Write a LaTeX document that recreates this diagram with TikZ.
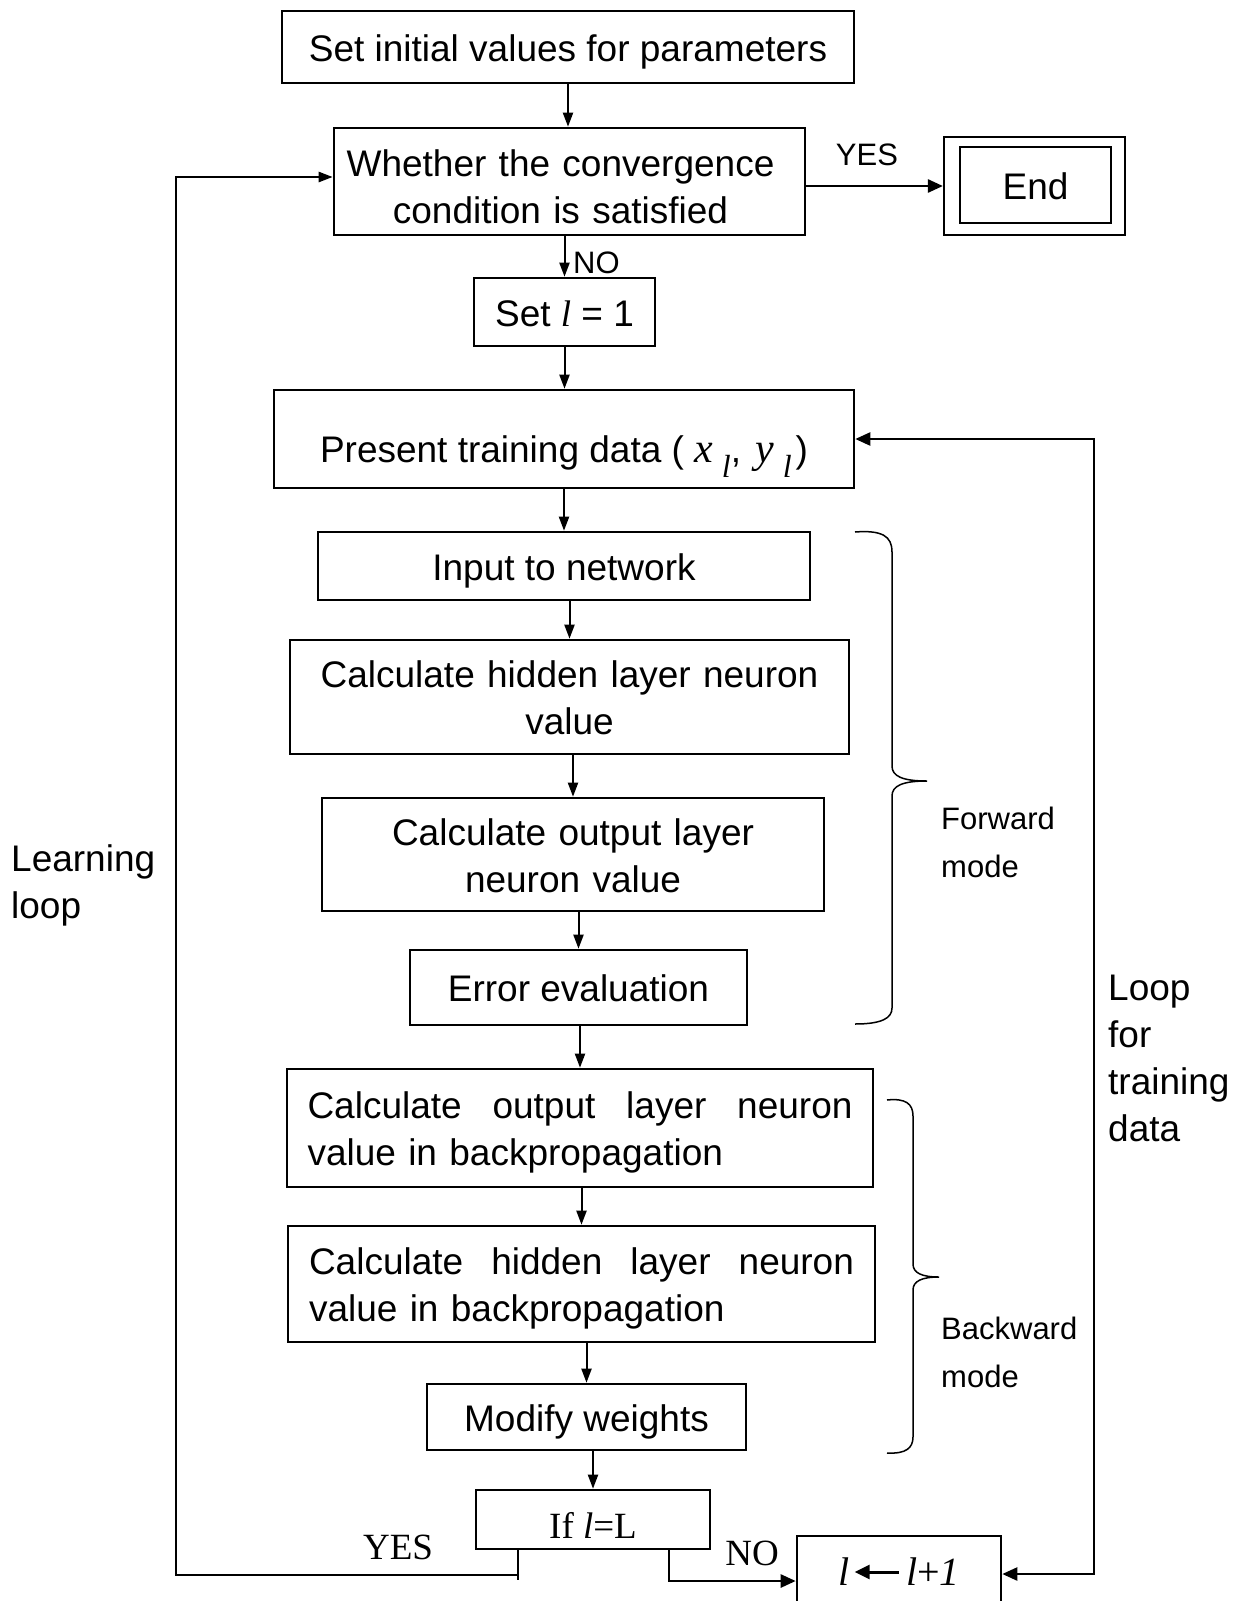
\documentclass[tikz,border=0pt]{standalone}
\usepackage{fontspec}
\setmainfont{Liberation Sans}
\newfontfamily\tnr{Liberation Serif}
\usetikzlibrary{arrows.meta}
\newcommand\bxf{\fontsize{37}{47}\selectfont}
\newcommand\lblf{\fontsize{31}{48}\selectfont}
\newcommand\tmf{\tnr\fontsize{37}{42}\selectfont}
\newcommand\il{{\tnr\itshape l}}
\newcommand\sbl{\raisebox{-15pt}{\tnr\itshape\fontsize{32}{32}\selectfont l}}
\newcommand\vx{{\tnr\itshape\fontsize{42}{42}\selectfont x}}
\newcommand\vy{{\tnr\itshape\fontsize{42}{42}\selectfont y}}
\newcommand\boxstrut{\rule[-8pt]{0pt}{44pt}}
\newcommand\assignarrow{\tikz[baseline=-13pt]\draw[line width=3pt,{Triangle[length=15pt,width=14pt]}-] (0pt,0pt) -- (44pt,0pt);}
\begin{document}
\begin{tikzpicture}[x=1pt,y=-1pt,
  box/.style={draw, line width=2.6pt, inner sep=0pt, align=center, font=\bxf,
    execute at begin node=\boxstrut, execute at end node=\boxstrut},
  arr/.style={line width=2pt, -{Triangle[length=14pt,width=10pt]}},
  bigarr/.style={line width=2.6pt, -{Triangle[length=15pt,width=13pt]}},
  dblarr/.style={line width=2.4pt, {Triangle[length=15pt,width=13pt]}-{Triangle[length=15pt,width=13pt]}},
  thinln/.style={line width=1.2pt},
  brc/.style={line width=1.5pt},
  lbl/.style={inner sep=0pt, font=\lblf, align=left},
  side/.style={inner sep=0pt, font=\bxf, align=left},
  tlbl/.style={inner sep=0pt, font=\tmf}]

\fill[white] (0,0) rectangle (1244,1601);
\useasboundingbox (0,0) rectangle (1244,1601);
\clip (0,0) rectangle (1244,1601);

% main column of steps
\node[box, minimum width=572pt, minimum height=72pt] (init) at (568,47) {Set initial values for parameters};
\node[box, minimum width=471pt, minimum height=107pt, text width=450pt,
  execute at begin node={\rule[-8pt]{0pt}{52pt}}] (conv) at (569.5,181.5)
  {\hspace*{-18pt}Whether the convergence\\\hspace*{-18pt}condition is satisfied};
\node[draw, line width=2.2pt, minimum width=181pt, minimum height=98pt, inner sep=0pt] (endo) at (1034.5,186) {};
\node[box, minimum width=151pt, minimum height=76pt] (endi) at (1035.5,185) {End};
\node[box, minimum width=181pt, minimum height=68pt] (setl) at (564.5,312) {Set \il{} = 1};
\node[box, minimum width=580pt, minimum height=98pt] (present) at (564,439)
  {\raisebox{-9pt}[0pt][0pt]{Present training data ( \vx\hspace{9pt}\sbl,\hspace{14pt}\vy\hspace{9pt}\sbl\hspace{4pt})}};
\node[box, minimum width=492pt, minimum height=68pt] (input) at (564,566) {Input to network};
\node[box, minimum width=559pt, minimum height=114pt, text width=540pt] (hidden) at (569.5,697) {Calculate hidden layer neuron\\value};
\node[box, minimum width=502pt, minimum height=113pt, text width=480pt] (output) at (573,854.5) {Calculate output layer\\neuron value};
\node[box, minimum width=337pt, minimum height=75pt] (error) at (578.5,987.5) {Error evaluation};
\node[box, minimum width=586pt, minimum height=118pt, text width=545pt, align=left] (backout) at (580,1128)
  {\makebox[545pt][s]{Calculate\hfill output\hfill layer\hfill neuron}\\value in backpropagation};
\node[box, minimum width=587pt, minimum height=116pt, text width=545pt, align=left] (backhid) at (581.5,1284)
  {\makebox[545pt][s]{Calculate\hfill hidden\hfill layer\hfill neuron}\\value in backpropagation};
\node[box, minimum width=319pt, minimum height=66pt] (modify) at (586.5,1417) {Modify weights};
\node[box, font=\tmf, minimum width=234pt, minimum height=59pt,
  execute at begin node={\rule[-4pt]{0pt}{49pt}}, execute at end node={}] (ifl) at (593,1519.5) {If \textit{l}=L};
\node[box, font=\tnr\fontsize{40}{40}\selectfont, minimum width=204pt, minimum height=70pt] (incr) at (899,1571)
  {\textit{l}\hspace{4pt}\assignarrow\hspace{6pt}\textit{l}+\textit{1}};

% labels
\node[lbl] (yes1) at (867,155) {YES};
\node[lbl, anchor=west] (no1) at (573,263) {NO};
\node[tlbl] (yes2) at (398,1547) {YES};
\node[tlbl] (no2) at (752,1553) {NO};
\node[side, anchor=west] (learn) at (11,885) {Learning\\loop};
\node[side, anchor=west] (ltd) at (1108,1058) {Loop\\for\\training\\data};
\node[lbl, anchor=west] (fwd) at (941,842) {Forward\\mode};
\node[lbl, anchor=west] (bwd) at (941,1352) {Backward\\mode};

% flow arrows
\draw[arr] (init.south) -- (init.south |- conv.north);
\draw[arr] (conv.south -| setl.north) -- (setl.north);
\draw[arr] (setl.south) -- (setl.south |- present.north);
\draw[arr] (present.south -| input.north) -- (input.north);
\draw[arr] (input.south -| hidden.north) -- (hidden.north);
\draw[arr] (hidden.south -| output.north) -- (output.north);
\draw[arr] (output.south -| error.north) -- (error.north);
\draw[arr] (error.south -| backout.north) -- (backout.north);
\draw[arr] (backout.south -| backhid.north) -- (backhid.north);
\draw[arr] (backhid.south -| modify.north) -- (modify.north);
\draw[arr] (modify.south -| ifl.north) -- (ifl.north);
\draw[bigarr] (conv.east |- endo.west) -- (endo.west);

% learning loop
\coordinate (yx) at (518,1575);
\coordinate (yend) at (518,1580);
\coordinate (lx) at (176,1575);
\draw[thinln] (ifl.south -| yx) -- (yend);
\draw[arr, line width=2.4pt] (yx) -- (lx) |- ([yshift=4.5pt]conv.west);

% loop for training data
\coordinate (nx) at (669,1581);
\draw[bigarr] (ifl.south -| nx) |- (incr.west |- nx);
\coordinate (rx) at (1094,1574);
\draw[dblarr] (incr.east |- rx) -- (rx) |- (present.east);

% braces
\draw[brc] (855,532) .. controls (882,530) and (892,536) .. (892,552) -- (892,766)
  .. controls (892,776) and (902,781) .. (927,781)
  .. controls (902,781) and (892,786) .. (892,796) -- (892,1008)
  .. controls (892,1018) and (882,1024) .. (855,1024);
\draw[brc] (887,1100) .. controls (906,1098) and (913,1104) .. (913,1116) -- (913,1264)
  .. controls (913,1273) and (922,1277) .. (939,1277)
  .. controls (922,1277) and (913,1281) .. (913,1290) -- (913,1437)
  .. controls (913,1448) and (906,1454) .. (887,1453);
\end{tikzpicture}
\end{document}
